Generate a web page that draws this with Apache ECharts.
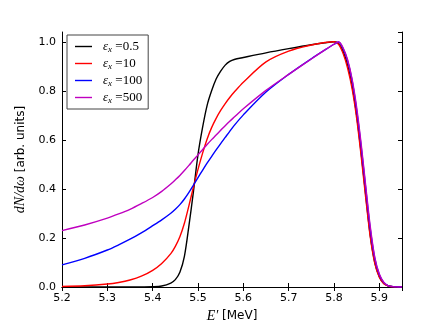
<!DOCTYPE html>
<html>
<head>
<meta charset="utf-8">
<script src="https://cdn.jsdelivr.net/npm/echarts@6/dist/echarts.min.js"></script>
<style>
  html, body { margin: 0; padding: 0; background: #fff; }
  #chart { width: 446px; height: 334px; }
</style>
</head>
<body>
<div id="chart"></div>
<script>
  // photon energy E' [MeV]
  var energy = [5.20, 5.25, 5.30, 5.325, 5.35, 5.375, 5.40, 5.42, 5.44, 5.45, 5.46, 5.47, 5.48, 5.49, 5.50, 5.51, 5.52, 5.53, 5.54, 5.55, 5.56, 5.57, 5.58, 5.60, 5.65, 5.70, 5.75, 5.78, 5.80, 5.81, 5.82, 5.83, 5.84, 5.85, 5.86, 5.87, 5.88, 5.89, 5.90, 5.91, 5.92, 5.93, 5.94, 5.95];

  var eps05 = [0, 0, 0, 0, 0, 0.0003, 0.001, 0.004, 0.016, 0.03, 0.06, 0.125, 0.25, 0.39, 0.54, 0.65, 0.74, 0.80, 0.848, 0.88, 0.905, 0.92, 0.928, 0.936, 0.955, 0.972, 0.988, 0.996, 1.0, 0.993, 0.96, 0.905, 0.82, 0.70, 0.545, 0.375, 0.21, 0.10, 0.042, 0.014, 0.004, 0.001, 0, 0];
  var eps10 = [0.002, 0.005, 0.012, 0.0185, 0.0285, 0.044, 0.068, 0.096, 0.136, 0.166, 0.205, 0.26, 0.332, 0.408, 0.48, 0.545, 0.603, 0.65, 0.688, 0.72, 0.748, 0.773, 0.795, 0.835, 0.918, 0.962, 0.987, 0.997, 1.0, 0.99, 0.953, 0.893, 0.808, 0.688, 0.533, 0.363, 0.204, 0.096, 0.04, 0.013, 0.004, 0.001, 0, 0];
  var eps100 = [0.09, 0.117, 0.151, 0.172, 0.195, 0.221, 0.25, 0.274, 0.301, 0.317, 0.336, 0.359, 0.386, 0.416, 0.446, 0.476, 0.505, 0.532, 0.559, 0.585, 0.61, 0.635, 0.659, 0.702, 0.795, 0.867, 0.931, 0.967, 0.99, 0.999, 0.972, 0.922, 0.842, 0.722, 0.572, 0.402, 0.237, 0.116, 0.05, 0.018, 0.005, 0.0015, 0.0003, 0];
  var eps500 = [0.23, 0.253, 0.281, 0.298, 0.317, 0.34, 0.365, 0.39, 0.42, 0.437, 0.455, 0.475, 0.496, 0.518, 0.539, 0.56, 0.581, 0.601, 0.62, 0.639, 0.658, 0.676, 0.693, 0.727, 0.802, 0.867, 0.93, 0.967, 0.99, 1.0, 0.976, 0.927, 0.847, 0.732, 0.582, 0.412, 0.246, 0.121, 0.053, 0.019, 0.005, 0.0015, 0.0003, 0];

  var seriesNames = ['0.5', '10', '100', '500'];
  var seriesColors = ['#000000', '#ff0000', '#0000ff', '#bf00bf'];
  var seriesValues = [eps05, eps10, eps100, eps500];

  var xTicks = { min: 5.2, max: 5.95, interval: 0.1 };
  var yTicks = { min: 0, max: 1.04, interval: 0.2 };

  var myChart = echarts.init(document.getElementById('chart'));

  function pairs(ys) {
    return energy.map(function (x, i) { return [x, ys[i]]; });
  }

  var tickStyle = { inside: true, length: 4, lineStyle: { color: '#000' } };
  var lineStyle = { lineStyle: { color: '#000', width: 1 } };
  var labelFont = { fontFamily: 'DejaVu Sans', fontSize: 11, color: '#000' };
  var nameFont = {
    fontFamily: 'DejaVu Sans', fontSize: 12, color: '#000',
    rich: { i: { fontFamily: 'Liberation Serif', fontStyle: 'italic', fontSize: 14 } }
  };

  var option = {
    backgroundColor: '#fff',
    animation: false,
    grid: { left: 62, right: 44, top: 32, bottom: 47 },
    legend: {
      orient: 'vertical',
      left: 67,
      top: 35,
      padding: [5, 6, 4, 8],
      itemWidth: 17,
      itemHeight: 14,
      itemGap: 3,
      borderColor: '#444',
      borderWidth: 1,
      borderRadius: 0,
      icon: 'path://M0,0 L17,0 L17,1.4 L0,1.4 Z',
      data: seriesNames,
      formatter: function (name) {
        return '{e|ε}{s|x}{t| =' + name + '}';
      },
      textStyle: {
        color: '#000',
        rich: {
          e: { fontFamily: 'Liberation Serif', fontStyle: 'italic', fontSize: 13, padding: [0, 0, 0, 6] },
          s: { fontFamily: 'Liberation Serif', fontStyle: 'italic', fontSize: 9, padding: [6, 0, 0, 0] },
          t: { fontFamily: 'Liberation Serif', fontSize: 13 }
        }
      }
    },
    xAxis: [{
      type: 'value',
      position: 'bottom',
      min: xTicks.min, max: xTicks.max, interval: xTicks.interval,
      axisLine: lineStyle,
      axisTick: tickStyle,
      splitLine: { show: false },
      axisLabel: Object.assign({ margin: 6, showMaxLabel: false, formatter: function (v) { return v.toFixed(1); } }, labelFont),
      name: '{i|E′} [MeV]',
      nameLocation: 'middle',
      nameGap: 19,
      nameTextStyle: nameFont
    }, {
      type: 'value',
      position: 'top',
      min: xTicks.min, max: xTicks.max, interval: xTicks.interval,
      axisLine: lineStyle,
      axisTick: tickStyle,
      splitLine: { show: false },
      axisLabel: { show: false }
    }],
    yAxis: [{
      type: 'value',
      position: 'left',
      min: yTicks.min, max: yTicks.max, interval: yTicks.interval,
      axisLine: lineStyle,
      axisTick: tickStyle,
      splitLine: { show: false },
      axisLabel: Object.assign({ margin: 6, showMaxLabel: false, formatter: function (v) { return v.toFixed(1); } }, labelFont),
      name: '{i|dN/dω} [arb. units]',
      nameLocation: 'middle',
      nameGap: 33,
      nameTextStyle: nameFont
    }, {
      type: 'value',
      position: 'right',
      min: yTicks.min, max: yTicks.max, interval: yTicks.interval,
      axisLine: lineStyle,
      axisTick: tickStyle,
      splitLine: { show: false },
      axisLabel: { show: false }
    }],
    series: seriesNames.map(function (name, k) {
      return {
        name: name,
        type: 'line',
        xAxisIndex: 0,
        yAxisIndex: 0,
        data: pairs(seriesValues[k]),
        showSymbol: false,
        symbol: 'none',
        smooth: 0.3,
        color: seriesColors[k],
        lineStyle: { color: seriesColors[k], width: 1.4 }
      };
    })
  };

  myChart.setOption(option);
</script>
</body>
</html>
